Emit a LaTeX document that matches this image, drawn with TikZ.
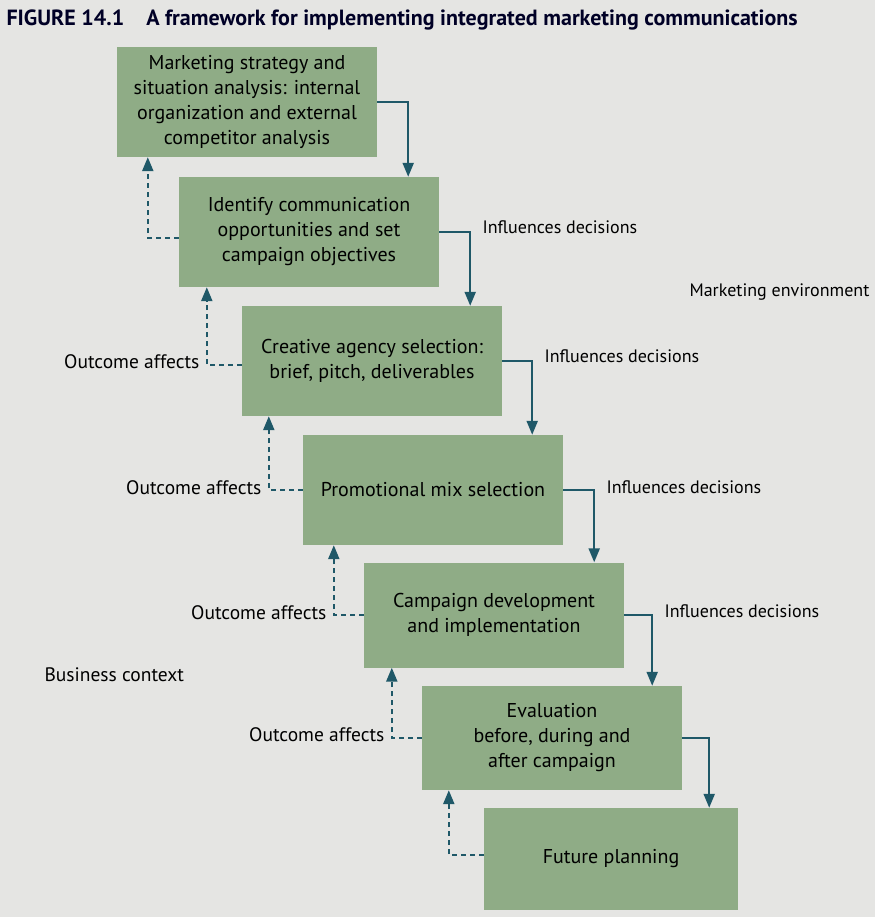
\documentclass[tikz,border=0pt]{standalone}
\usepackage{fontspec}
\setmainfont{PT Sans}
\usetikzlibrary{positioning}
\usetikzlibrary{arrows.meta}
\definecolor{boxgreen}{HTML}{8FAC86}
\definecolor{arrowteal}{HTML}{1F5868}
\definecolor{pagegray}{HTML}{E5E5E3}
\tikzset{x=1pt, y=-1pt, % one unit is one pixel of the page, y runs downwards
      stage/.style={ % Sets the properties for each green box
      fill=boxgreen,
      minimum width=260pt, minimum height=110pt,
      align=center,
      font=\fontsize{20}{25}\selectfont},
      influence/.style={ % Solid connector to the next stage
      draw=arrowteal, line width=2.2pt,
      -{Triangle[length=14pt,width=11pt]}},
      outcome/.style={ % Dashed feedback to the stage before
      draw=arrowteal, line width=2.2pt, dash pattern=on 5pt off 4pt,
      -{Triangle[length=14pt,width=11pt]}},
      side label/.style={font=\fontsize{18}{21}\selectfont},
      left label/.style={font=\fontsize{19.5}{22}\selectfont}}

\begin{document}
\begin{tikzpicture}
      \fill[pagegray] (0,0) rectangle (875,917);
      \node[anchor=west, font=\bfseries\fontsize{22}{25}\selectfont, text=black!85!blue] (title) at (3,20)
            {FIGURE 14.1\quad A framework for implementing integrated marketing communications};
      \node[stage] (s1) at (247,102) {Marketing strategy and\\situation analysis: internal\\organization and external\\competitor analysis};
      \node[stage] (s2) at (309,232) {Identify communication\\opportunities and set\\campaign objectives};
      \node[stage] (s3) at (372,361) {Creative agency selection:\\brief, pitch, deliverables};
      \node[stage] (s4) at (433,490) {Promotional mix selection};
      \node[stage, minimum height=105pt] (s5) at (494,615) {Campaign development\\and implementation};
      \node[stage, minimum height=104pt] (s6) at (552,738) {Evaluation\\before, during and\\after campaign};
      \node[stage, minimum width=254pt, minimum height=102pt] (s7) at (611,859) {Future planning};
      \node[side label, anchor=west] (env) at (686,292) {Marketing environment};
      \node[left label, anchor=west] (biz) at (41,675) {Business context};
      % influences decisions
      \draw[influence] (s1.east) -| ([xshift=-31pt]s2.north east);
      \draw[influence] (s2.east) -| node[pos=0.5, side label, anchor=west, xshift=8pt, yshift=5pt] {Influences decisions} ([xshift=-32pt]s3.north east);
      \draw[influence] (s3.east) -| node[pos=0.5, side label, anchor=west, xshift=8pt, yshift=5pt] {Influences decisions} ([xshift=-31pt]s4.north east);
      \draw[influence] (s4.east) -| node[pos=0.5, side label, anchor=west, xshift=8pt, yshift=3pt] {Influences decisions} ([xshift=-30pt]s5.north east);
      \draw[influence] (s5.east) -| node[pos=0.5, side label, anchor=west, xshift=8pt, yshift=4pt] {Influences decisions} ([xshift=-30pt]s6.north east);
      \draw[influence] (s6.east) -| ([xshift=-29pt]s7.north east);
      % outcome affects
      \draw[outcome] ([yshift=-6pt]s2.west) -| ([xshift=31pt]s1.south west);
      \draw[outcome] ([yshift=-4pt]s3.west) -| node[pos=0.5, left label, anchor=east, xshift=-3pt, yshift=3pt] {Outcome affects} ([xshift=28pt]s2.south west);
      \draw[outcome] (s4.west) -| node[pos=0.5, left label, anchor=east, xshift=-3pt, yshift=2pt] {Outcome affects} ([xshift=27pt]s3.south west);
      \draw[outcome] (s5.west) -| node[pos=0.5, left label, anchor=east, xshift=-3pt, yshift=2pt] {Outcome affects} ([xshift=31pt]s4.south west);
      \draw[outcome] (s6.west) -| node[pos=0.5, left label, anchor=east, xshift=-3pt, yshift=3pt] {Outcome affects} ([xshift=28pt]s5.south west);
      \draw[outcome] ([yshift=4pt]s7.west) -| ([xshift=27pt]s6.south west);
\end{tikzpicture}
\end{document}
